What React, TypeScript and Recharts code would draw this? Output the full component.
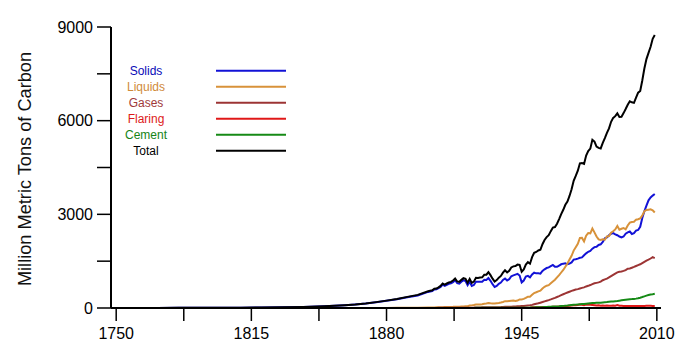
import React from "react";
import { LineChart, Line, XAxis, YAxis, Legend } from "recharts";

// sparse before 1900 (smooth), yearly after
const years = [
  1751, 1760, 1770, 1780, 1790, 1800, 1810, 1820, 1830, 1840, 1850, 1855, 1860, 1865, 1870, 1875, 1880, 1885, 1890, 1895,
  1900, 1901, 1902, 1903, 1904, 1905, 1906, 1907, 1908, 1909,
  1910, 1911, 1912, 1913, 1914, 1915, 1916, 1917, 1918, 1919,
  1920, 1921, 1922, 1923, 1924, 1925, 1926, 1927, 1928, 1929,
  1930, 1931, 1932, 1933, 1934, 1935, 1936, 1937, 1938, 1939,
  1940, 1941, 1942, 1943, 1944, 1945, 1946, 1947, 1948, 1949,
  1950, 1951, 1952, 1953, 1954, 1955, 1956, 1957, 1958, 1959,
  1960, 1961, 1962, 1963, 1964, 1965, 1966, 1967, 1968, 1969,
  1970, 1971, 1972, 1973, 1974, 1975, 1976, 1977, 1978, 1979,
  1980, 1981, 1982, 1983, 1984, 1985, 1986, 1987, 1988, 1989,
  1990, 1991, 1992, 1993, 1994, 1995, 1996, 1997, 1998, 1999,
  2000, 2001, 2002, 2003, 2004, 2005, 2006, 2007, 2008, 2009,
];

const solids = [
  3, 3, 4, 5, 7, 8, 10, 14, 24, 33, 54, 70, 91, 115, 146, 186, 233, 280, 345, 402,
  515, 530, 543, 591, 596, 633, 675, 748, 711, 744,
  776, 791, 830, 889, 794, 780, 840, 890, 866, 733,
  840, 705, 736, 843, 837, 841, 842, 903, 896, 958,
  870, 762, 673, 705, 775, 815, 900, 947, 884, 922,
  1018, 1044, 1068, 1093, 1040, 820, 880, 1005, 1030, 980,
  1076, 1130, 1110, 1110, 1100, 1185, 1240, 1280, 1300, 1340,
  1380, 1320, 1320, 1360, 1400, 1420, 1430, 1400, 1420, 1460,
  1550, 1560, 1580, 1610, 1620, 1690, 1750, 1800, 1830, 1900,
  1950, 1960, 2020, 2040, 2120, 2230, 2260, 2330, 2380, 2400,
  2360, 2330, 2290, 2260, 2290, 2380, 2420, 2450, 2370, 2400,
  2480, 2500, 2600, 2880, 3100, 3280, 3450, 3540, 3600, 3650,
];

const liquids = [
  0, 0, 0, 0, 0, 0, 0, 0, 0, 0, 0, 0, 0, 0, 1, 2, 3, 5, 8, 12,
  16, 18, 19, 20, 23, 23, 23, 28, 30, 32,
  34, 36, 37, 41, 42, 44, 47, 50, 54, 57,
  78, 84, 94, 111, 110, 116, 119, 136, 143, 160,
  152, 147, 141, 154, 162, 176, 192, 219, 214, 222,
  229, 236, 222, 239, 275, 275, 292, 322, 364, 362,
  423, 479, 504, 533, 557, 625, 679, 714, 731, 789,
  849, 904, 980, 1052, 1137, 1219, 1323, 1423, 1551, 1673,
  1839, 1947, 2057, 2241, 2245, 2132, 2314, 2398, 2392, 2544,
  2422, 2289, 2196, 2176, 2199, 2186, 2293, 2306, 2412, 2459,
  2517, 2627, 2506, 2537, 2562, 2520, 2643, 2736, 2754, 2762,
  2830, 2842, 2870, 2960, 3100, 3140, 3150, 3160, 3130, 3060,
];

const gases = [
  0, 0, 0, 0, 0, 0, 0, 0, 0, 0, 0, 0, 0, 0, 0, 0, 0, 2, 3, 4,
  3, 3, 3, 4, 4, 5, 5, 6, 7, 7,
  8, 8, 9, 9, 9, 9, 10, 10, 10, 10,
  12, 12, 13, 16, 18, 19, 21, 22, 24, 27,
  28, 26, 25, 26, 28, 30, 34, 37, 37, 39,
  44, 48, 52, 56, 60, 62, 65, 72, 80, 85,
  100, 120, 135, 150, 170, 190, 212, 232, 252, 275,
  300, 325, 352, 380, 410, 440, 468, 495, 522, 548,
  570, 590, 605, 625, 645, 660, 690, 710, 735, 765,
  790, 805, 820, 845, 890, 915, 940, 980, 1020, 1060,
  1100, 1140, 1160, 1170, 1190, 1215, 1260, 1265, 1290, 1315,
  1345, 1375, 1400, 1440, 1480, 1520, 1550, 1585, 1630, 1600,
];

const flaring = [
  0, 0, 0, 0, 0, 0, 0, 0, 0, 0, 0, 0, 0, 0, 0, 0, 0, 0, 0, 0,
  0, 0, 0, 0, 0, 0, 0, 0, 0, 0,
  0, 0, 0, 0, 0, 0, 0, 0, 0, 0,
  0, 0, 0, 0, 0, 0, 0, 0, 0, 0,
  0, 0, 0, 0, 0, 0, 0, 0, 0, 0,
  0, 0, 0, 0, 0, 0, 0, 0, 0, 0,
  23, 24, 26, 27, 27, 31, 32, 35, 35, 36,
  39, 42, 44, 47, 51, 55, 60, 66, 73, 80,
  87, 88, 95, 110, 107, 92, 108, 104, 106, 98,
  89, 79, 84, 75, 77, 76, 78, 72, 75, 77,
  75, 95, 71, 69, 67, 64, 66, 64, 63, 61,
  61, 62, 64, 66, 68, 69, 70, 70, 68, 68,
];

const cement = [
  0, 0, 0, 0, 0, 0, 0, 0, 0, 0, 0, 0, 0, 0, 0, 0, 0, 0, 0, 0,
  2, 2, 2, 2, 2, 3, 3, 3, 3, 3,
  3, 3, 4, 4, 4, 3, 3, 3, 3, 3,
  4, 4, 4, 5, 5, 5, 6, 6, 6, 7,
  7, 6, 5, 5, 6, 7, 8, 9, 9, 10,
  10, 10, 10, 9, 8, 8, 10, 11, 12, 13,
  18, 20, 22, 24, 26, 28, 31, 34, 37, 40,
  45, 48, 52, 56, 62, 68, 74, 80, 88, 95,
  102, 108, 115, 122, 126, 128, 135, 142, 150, 158,
  162, 165, 168, 172, 178, 184, 190, 198, 206, 212,
  218, 225, 235, 245, 255, 265, 272, 280, 285, 292,
  300, 312, 330, 350, 372, 395, 415, 435, 440, 455,
];

const total = [
  3, 3, 4, 5, 7, 8, 10, 14, 24, 33, 54, 70, 91, 115, 147, 188, 236, 287, 356, 420,
  534, 552, 566, 617, 624, 663, 707, 784, 750, 785,
  819, 836, 879, 943, 850, 838, 901, 955, 936, 806,
  932, 803, 845, 970, 963, 975, 983, 1062, 1065, 1145,
  1053, 940, 847, 893, 973, 1027, 1130, 1209, 1142, 1192,
  1299, 1334, 1342, 1391, 1383, 1160, 1238, 1392, 1469, 1419,
  1630, 1767, 1795, 1841, 1865, 2043, 2177, 2270, 2330, 2462,
  2577, 2594, 2700, 2848, 3008, 3145, 3305, 3411, 3588, 3800,
  4076, 4231, 4399, 4635, 4644, 4615, 4883, 5029, 5105, 5387,
  5332, 5168, 5127, 5110, 5290, 5444, 5610, 5753, 5964, 6089,
  6144, 6235, 6118, 6124, 6242, 6372, 6510, 6619, 6588, 6569,
  6735, 6896, 6949, 7286, 7672, 7971, 8170, 8366, 8620, 8745,
];

const xTicks = [1750, 1782.5, 1815, 1847.5, 1880, 1912.5, 1945, 1977.5, 2010];
const yTicks = [0, 1500, 3000, 4500, 6000, 7500, 9000];

const series = [
  { key: "solids", name: "Solids", color: "#1212d6", text: "#0a0ab8" },
  { key: "liquids", name: "Liquids", color: "#d8923a", text: "#d08a3a" },
  { key: "gases", name: "Gases", color: "#9c3434", text: "#a03a3a" },
  { key: "flaring", name: "Flaring", color: "#e01818", text: "#dd1a1a" },
  { key: "cement", name: "Cement", color: "#168a16", text: "#168416" },
  { key: "total", name: "Total", color: "#000000", text: "#000000" },
];

const data = years.map((year, i) => ({
  year,
  solids: solids[i],
  liquids: liquids[i],
  gases: gases[i],
  flaring: flaring[i],
  cement: cement[i],
  total: total[i],
}));

const FONT = '"Liberation Sans", Arial, Helvetica, sans-serif';

function ChartLegend() {
  return (
    <svg width={300} height={170} style={{ fontFamily: FONT }}>
      {series.map((s, i) => (
        <g key={s.key}>
          <text
            x={146}
            y={70.5 + i * 16}
            textAnchor="middle"
            dominantBaseline="central"
            fontSize={12}
            fill={s.text}
          >
            {s.name}
          </text>
          <line x1={216} x2={286} y1={70.7 + i * 16} y2={70.7 + i * 16} stroke={s.color} strokeWidth={2} />
        </g>
      ))}
    </svg>
  );
}

function YTitle() {
  return (
    <text
      x={25}
      y={169}
      transform="rotate(-90 25 169)"
      textAnchor="middle"
      dominantBaseline="central"
      fontSize={18.2}
      fill="#111"
    >
      Million Metric Tons of Carbon
    </text>
  );
}

export default function App() {
  return (
    <div style={{ position: "absolute", left: 0, top: 0, width: 692, height: 352, background: "#fff", fontFamily: FONT }}>
      <LineChart width={692} height={352} data={data} margin={{ top: 27, right: 31, bottom: 0, left: 0 }}>
        <XAxis
          dataKey="year"
          type="number"
          domain={[1747.5, 2012]}
          ticks={xTicks}
          interval={0}
          height={44}
          tickSize={13}
          tickMargin={7}
          tickFormatter={(v: number) => (Number.isInteger(v) ? String(v) : "")}
          tick={{ fill: "#000", fontSize: 16 }}
          axisLine={{ stroke: "#000", strokeWidth: 2 }}
          tickLine={{ stroke: "#000", strokeWidth: 1.5 }}
          allowDataOverflow
        />
        <XAxis
          xAxisId="top"
          orientation="top"
          type="number"
          domain={[1747.5, 2012]}
          height={0}
          tick={false}
          tickLine={false}
          axisLine={{ stroke: "#000", strokeWidth: 2 }}
        />
        <YAxis
          type="number"
          domain={[0, 9000]}
          ticks={yTicks}
          interval={0}
          width={111}
          tickSize={14}
          tickMargin={4}
          tickFormatter={(v: number) => (v % 3000 === 0 ? String(v) : "")}
          tick={{ fill: "#000", fontSize: 16 }}
          axisLine={{ stroke: "#000", strokeWidth: 2 }}
          tickLine={{ stroke: "#000", strokeWidth: 1.5 }}
          label={<YTitle />}
        />
        <YAxis
          yAxisId="right"
          orientation="right"
          type="number"
          domain={[0, 9000]}
          width={0}
          tick={false}
          tickLine={false}
          axisLine={{ stroke: "#000", strokeWidth: 2 }}
        />
        <Legend
          layout="vertical"
          align="center"
          verticalAlign="middle"
          content={() => <ChartLegend />}
          wrapperStyle={{ position: "absolute", left: 0, top: 0, width: 300, height: 170 }}
        />
        {series.map((s) => (
          <Line
            key={s.key}
            dataKey={s.key}
            name={s.name}
            stroke={s.color}
            strokeWidth={2}
            dot={false}
            activeDot={false}
            type="linear"
            isAnimationActive={false}
          />
        ))}
      </LineChart>
    </div>
  );
}
